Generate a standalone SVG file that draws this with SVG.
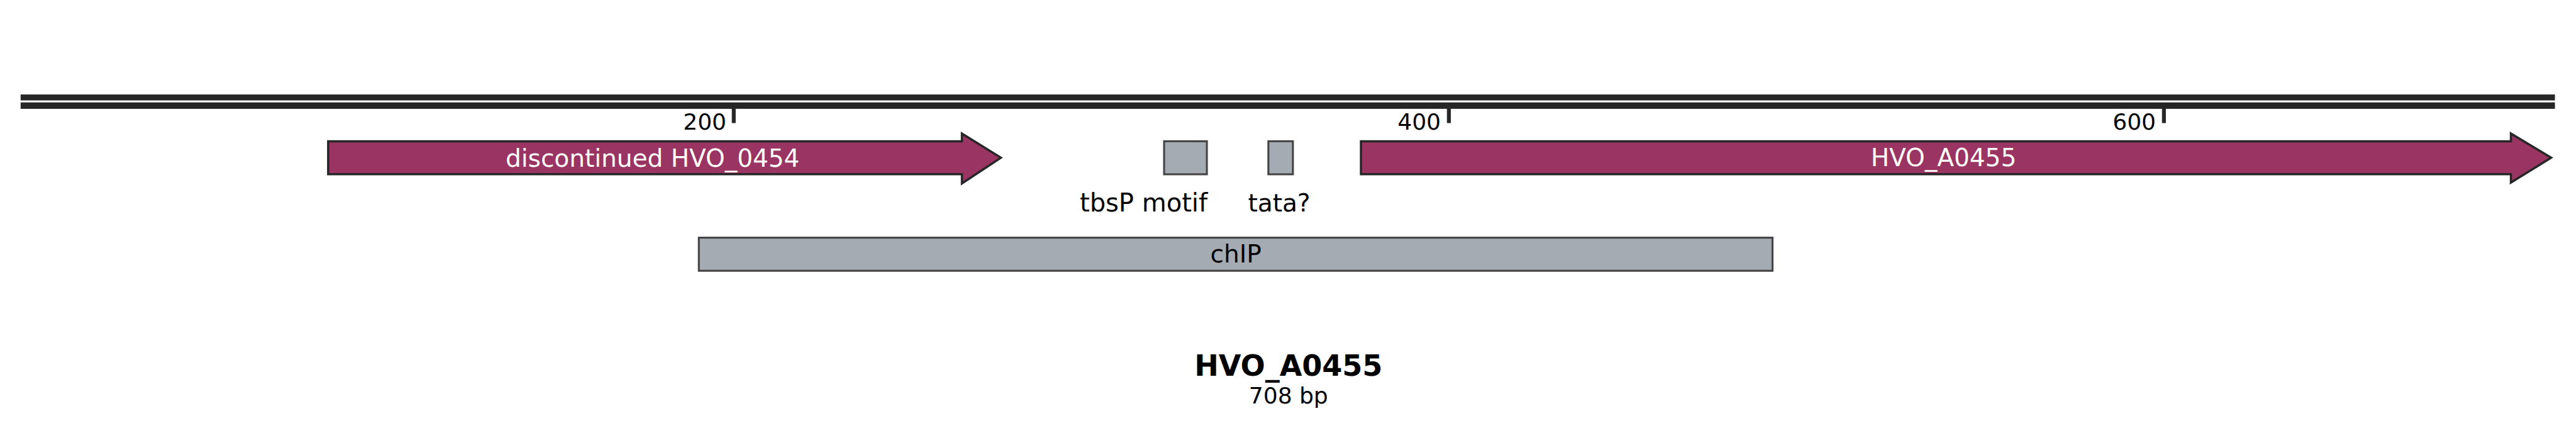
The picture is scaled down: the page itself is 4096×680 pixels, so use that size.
<svg xmlns="http://www.w3.org/2000/svg" width="4096" height="680" viewBox="0 0 4096 680">
<style>
text{font-family:"DejaVu Sans","Verdana",sans-serif}
.bb{fill:#262626}
.tick{fill:#262626}
.tl{font-size:36px;fill:#000;text-anchor:end}
.gene{fill:#993463;stroke:#262626;stroke-width:3.5;stroke-linejoin:miter}
.feat{fill:#a5abb3;stroke:#444444;stroke-width:3.1}
.gl{font-size:39px;fill:#fff;text-anchor:middle}
.fl{font-size:39px;fill:#000;text-anchor:middle}
</style>
<rect width="4096" height="680" fill="#fff"/>
<g id="backbone">
<rect class="bb" x="32.8" y="150.1" width="4029.7" height="9.4"/>
<rect class="bb" x="32.8" y="162.7" width="4029.7" height="10.2"/>
</g>
<g id="ticks">
<rect class="tick" x="1163.6" y="172" width="6.2" height="23.5"/>
<rect class="tick" x="2300.7" y="172" width="6.2" height="23.5"/>
<rect class="tick" x="3437.7" y="172" width="6.2" height="23.5"/>
<text class="tl" x="1155" y="205.7">200</text>
<text class="tl" x="2291" y="205.7">400</text>
<text class="tl" x="3428" y="205.7">600</text>
</g>
<g id="gene-HVO_0454">
<polygon class="gene" points="521.8,224.6 1529.5,224.6 1529.5,212.2 1591.5,250.6 1529.5,291.5 1529.5,276.7 521.8,276.7"/>
<text class="gl" x="1037.7" y="265.1">discontinued HVO_0454</text>
</g>
<g id="motif-tbsP">
<rect class="feat" x="1851" y="224.4" width="68" height="52.5"/>
<text class="fl" x="1818.5" y="335.5" style="font-size:40px">tbsP motif</text>
</g>
<g id="motif-tata">
<rect class="feat" x="2016.8" y="224.4" width="39" height="52.5"/>
<text class="fl" x="2034" y="335.5">tata?</text>
</g>
<g id="gene-HVO_A0455">
<polygon class="gene" points="2164,224.6 3992.5,224.6 3992.5,212.2 4056.5,250.6 3992.5,290 3992.5,276.7 2164,276.7"/>
<text class="gl" x="3090.5" y="264.3">HVO_A0455</text>
</g>
<g id="region-chIP">
<rect class="feat" x="1111.2" y="377.6" width="1707.2" height="52.6"/>
<text class="fl" x="1965.2" y="416.8">chIP</text>
</g>
<g id="title">
<text x="2048.8" y="596.7" font-size="46" font-weight="bold" text-anchor="middle" fill="#000">HVO_A0455</text>
<text x="2048.8" y="641.2" font-size="36" text-anchor="middle" fill="#000">708 bp</text>
</g>
<g id="connectors"></g>
</svg>
